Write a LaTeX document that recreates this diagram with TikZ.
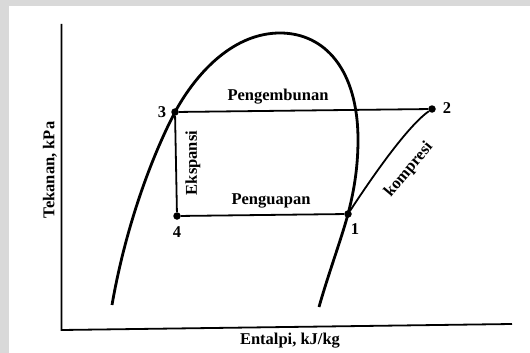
\documentclass[tikz,border=0pt]{standalone}
\usepackage{fontspec}
\setmainfont{Liberation Serif}
\definecolor{abu}{HTML}{D9D9D9}
\tikzset{
  titik/.style={circle, fill=black, inner sep=0pt, minimum size=7.5pt},
  kurva/.style={line width=2.8pt},
  siklus/.style={line width=1.8pt}
}
\begin{document}
\begin{tikzpicture}[x=1pt, y=-1pt, every node/.style={font=\fontsize{16.5}{19}\selectfont\bfseries}]
    \useasboundingbox (0,0) rectangle (530,353);
    % Tepi abu-abu hasil pindaian.
    \fill[abu] (0,0) rectangle (530,353);
    \fill[white] (9,6) rectangle (530,353);

    % Sumbu tekanan dan entalpi.
    \coordinate (atas) at (61.5,24);
    \coordinate (asal) at (61.5,330);
    \coordinate (kanan) at (512,324);
    \draw[line width=1.8pt] (atas) -- (asal) -- (kanan);
    \node[rotate=90] (tekanan) at (50,170) {Tekanan, kPa};
    \node (entalpi) at (290,341) {Entalpi, kJ/kg};

    % Kurva jenuh (kubah).
    \draw[kurva] (112,305) .. controls (125,230) and (150,160) .. (175,112)
        .. controls (198,70) and (235,33) .. (280,33)
        .. controls (325,33) and (358,70) .. (358,140)
        .. controls (358,170) and (353,195) .. (348,214)
        .. controls (342,237) and (328,275) .. (319,307);

    % Titik-titik siklus.
    \node[titik] (p1) at (348,214) {};
    \node[titik] (p2) at (432,109) {};
    \node[titik] (p3) at (175,112) {};
    \node[titik] (p4) at (177,216) {};
    \node (n1) at (355,229) {1};
    \node (n2) at (447,108) {2};
    \node (n3) at (162,112) {3};
    \node (n4) at (177,232) {4};

    \draw[siklus] (p3) -- (p2);
    \draw[siklus] (p3) -- (p4);
    \draw[siklus] (p4) -- (p1);
    \draw[siklus] (p1) .. controls (365,188) and (405,128) .. (p2);

    \node (kondensasi) at (278,97) {Pengembunan};
    \node (evaporasi) at (271,201) {Penguapan};
    \node[rotate=90] (ekspansi) at (193,163) {Ekspansi};
    \node[rotate=50] (kompresi) at (409,170) {kompresi};
\end{tikzpicture}
\end{document}
